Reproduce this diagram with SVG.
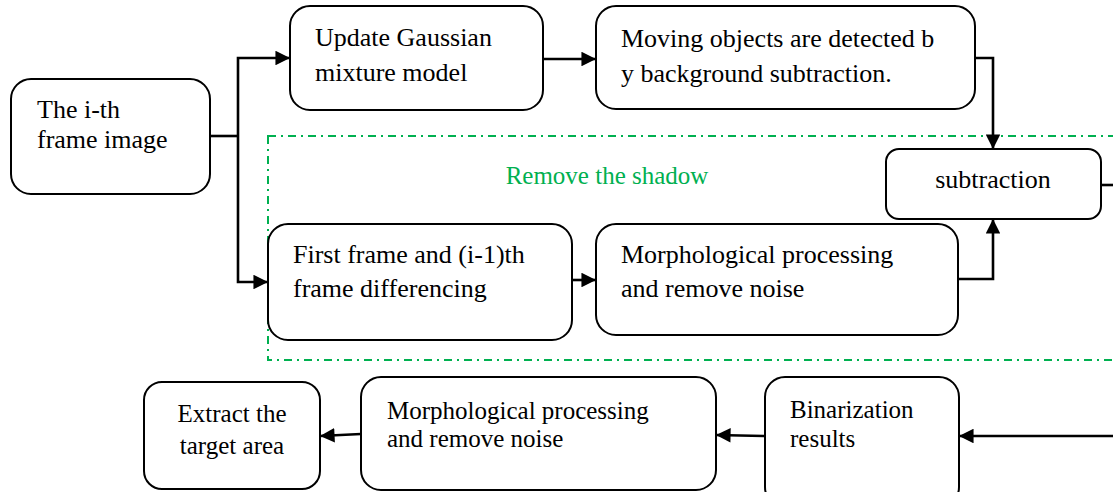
<svg xmlns="http://www.w3.org/2000/svg" width="1113" height="492" viewBox="0 0 1113 492">
  <defs>
    <marker id="arrow" viewBox="0 0 10 10" refX="10" refY="5" markerWidth="5.8" markerHeight="5.6" markerUnits="strokeWidth" orient="auto">
      <path d="M0,0 L10,5 L0,10 z" fill="#000"/>
    </marker>
    <style>
      .box { fill: #fff; stroke: #000; stroke-width: 2; }
      .lbl { font-size: 26px; fill: #000; }
      .lbl-sm { font-size: 25px; fill: #000; }
      .wire { fill: none; stroke: #000; stroke-width: 2.6; }
      .arr { marker-end: url(#arrow); }
      .region { fill: none; stroke: #00b050; stroke-width: 2; stroke-dasharray: 8 5 2 5; }
      .region-lbl { font-size: 25px; fill: #00b050; }
    </style>
  </defs>

  <rect width="1113" height="492" fill="#fff"/>

  <g font-family="'Liberation Serif', 'Times New Roman', Times, serif">
    <!-- shadow removal region -->
    <g id="shadow-region">
      <rect class="region" x="268" y="136" width="870" height="224"/>
      <text class="region-lbl" x="607" y="184" text-anchor="middle">Remove the shadow</text>
    </g>

    <g id="frame">
      <rect class="box" x="11" y="79" width="199" height="115" rx="20"/>
      <text class="lbl" x="37" y="118">The i-th</text>
      <text class="lbl" x="37" y="148">frame image</text>
    </g>

    <g id="gmm">
      <rect class="box" x="290" y="6" width="253" height="104" rx="20"/>
      <text class="lbl" x="315" y="46">Update Gaussian</text>
      <text class="lbl" x="315" y="81">mixture model</text>
    </g>

    <g id="bg-sub">
      <rect class="box" x="596" y="6" width="379" height="103" rx="20"/>
      <text class="lbl" x="621" y="47">Moving objects are detected b</text>
      <text class="lbl" x="621" y="82">y background subtraction.</text>
    </g>

    <g id="subtraction">
      <rect class="box" x="886" y="149" width="215" height="70" rx="13"/>
      <text class="lbl" x="993" y="188" text-anchor="middle">subtraction</text>
    </g>

    <g id="frame-diff">
      <rect class="box" x="268" y="224" width="304" height="116" rx="20"/>
      <text class="lbl" x="293" y="263">First frame and (i-1)th</text>
      <text class="lbl" x="293" y="297">frame differencing</text>
    </g>

    <g id="morph-1">
      <rect class="box" x="596" y="224" width="362" height="111" rx="20"/>
      <text class="lbl" x="621" y="263">Morphological processing</text>
      <text class="lbl" x="621" y="297">and remove noise</text>
    </g>

    <g id="extract">
      <rect class="box" x="144" y="382" width="176" height="107" rx="18"/>
      <text class="lbl-sm" x="232" y="422" text-anchor="middle">Extract the</text>
      <text class="lbl-sm" x="232" y="454" text-anchor="middle">target area</text>
    </g>

    <g id="morph-2">
      <rect class="box" x="361" y="377" width="355" height="113" rx="20"/>
      <text class="lbl-sm" x="387" y="419">Morphological processing</text>
      <text class="lbl-sm" x="387" y="447">and remove noise</text>
    </g>

    <g id="binarize">
      <rect class="box" x="765" y="377" width="194" height="130" rx="20"/>
      <text class="lbl-sm" x="790" y="418">Binarization</text>
      <text class="lbl-sm" x="790" y="447">results</text>
    </g>
  </g>

  <!-- connectors -->
  <g id="connectors">
    <polyline class="wire" points="210,136 238,136"/>
    <polyline class="wire arr" points="238,136 238,58 290,58"/>
    <polyline class="wire arr" points="238,136 238,282 268,282"/>
    <polyline class="wire arr" points="543,59 596,59"/>
    <polyline class="wire arr" points="975,58 993,58 993,149"/>
    <polyline class="wire arr" points="572,280 596,280"/>
    <polyline class="wire arr" points="958,279 993,279 993,219"/>
    <polyline class="wire" points="1101,185 1113,185"/>
    <polyline class="wire arr" points="1113,436 959,436"/>
    <polyline class="wire arr" points="765,436 716,435"/>
    <polyline class="wire arr" points="361,434 320,436"/>
  </g>
</svg>
